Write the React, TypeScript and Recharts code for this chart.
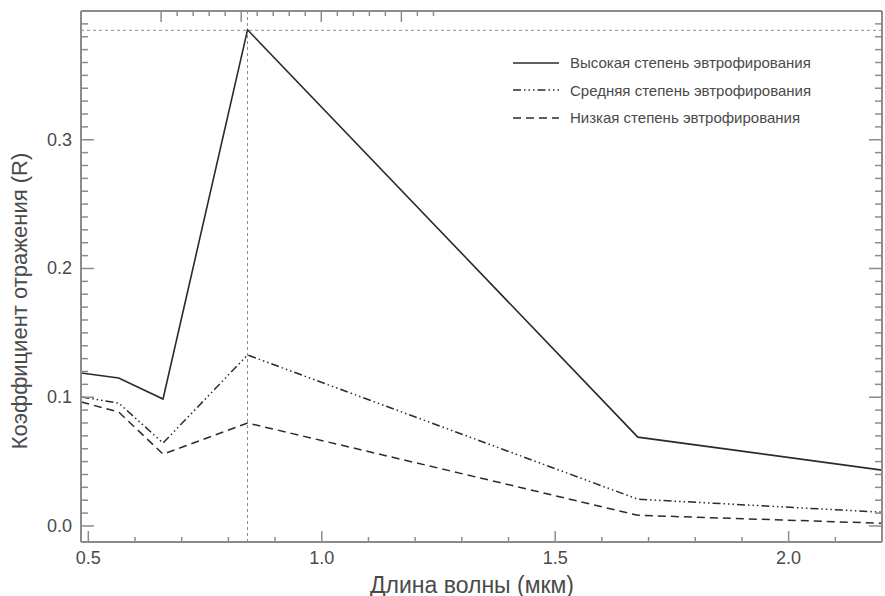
import React from 'react';
import { LineChart, Line, XAxis, YAxis, ReferenceLine, Legend } from 'recharts';

// wavelength of each band, мкм
const wavelength = [0.485, 0.565, 0.66, 0.841, 1.677, 2.2];
const highValues = [0.1188, 0.115, 0.0986, 0.3854, 0.069, 0.0434];
const mediumValues = [0.1002, 0.0955, 0.0644, 0.1328, 0.0208, 0.0107];
const lowValues = [0.0963, 0.0885, 0.0558, 0.08, 0.0083, 0.0021];

const seriesNames = [
  'Высокая степень эвтрофирования',
  'Средняя степень эвтрофирования',
  'Низкая степень эвтрофирования',
];

const xTicks = [0.5, 0.6, 0.7, 0.8, 0.9, 1.0, 1.1, 1.2, 1.3, 1.4, 1.5, 1.6, 1.7, 1.8, 1.9, 2.0, 2.1, 2.2];
const xMajor = [0.5, 1.0, 1.5, 2.0];
const yTicks = [
  0, 0.01, 0.02, 0.03, 0.04, 0.05, 0.06, 0.07, 0.08, 0.09,
  0.1, 0.11, 0.12, 0.13, 0.14, 0.15, 0.16, 0.17, 0.18, 0.19,
  0.2, 0.21, 0.22, 0.23, 0.24, 0.25, 0.26, 0.27, 0.28, 0.29,
  0.3, 0.31, 0.32, 0.33, 0.34, 0.35, 0.36, 0.37, 0.38, 0.39,
];
const yMajor = [0, 0.1, 0.2, 0.3];

const peakX = 0.841;
const peakY = 0.385;

const FONT = '"Liberation Sans", Arial, sans-serif';
const AXIS = '#8c8c8c';
const TEXT = '#4a4a4a';
const LINE = '#2b2b2b';

const dashes = ['', '8 3 1.5 3 1.5 3 1.5 3', '8 5'];

const chartData = wavelength.map((w, i) => ({
  w,
  high: highValues[i],
  medium: mediumValues[i],
  low: lowValues[i],
}));

const isMajor = (list: number[], v: number) => list.some((m) => Math.abs(m - v) < 1e-6);

const BottomTick = (props: any) => {
  const { x, y, payload } = props;
  const major = isMajor(xMajor, payload.value);
  return (
    <g>
      <line x1={x} x2={x} y1={y} y2={y - (major ? 11 : 5)} stroke={AXIS} strokeWidth={1.5} />
      {major && (
        <text x={x} y={y + 22} textAnchor="middle" fontSize={18} fill={TEXT} fontFamily={FONT}>
          {payload.value.toFixed(1)}
        </text>
      )}
    </g>
  );
};

const TopTick = (props: any) => {
  const { x, y, payload } = props;
  const major = isMajor(xMajor, payload.value);
  return <line x1={x} x2={x} y1={y} y2={y + (major ? 11 : 5)} stroke={AXIS} strokeWidth={1.5} />;
};

const LeftTick = (props: any) => {
  const { x, y, payload } = props;
  const major = isMajor(yMajor, payload.value);
  return (
    <g>
      <line x1={x} x2={x + (major ? 13 : 7)} y1={y} y2={y} stroke={AXIS} strokeWidth={1.5} />
      {major && (
        <text x={x - 9} y={y + 6} textAnchor="end" fontSize={18} fill={TEXT} fontFamily={FONT}>
          {payload.value.toFixed(1)}
        </text>
      )}
    </g>
  );
};

const RightTick = (props: any) => {
  const { x, y, payload } = props;
  const major = isMajor(yMajor, payload.value);
  return <line x1={x} x2={x - (major ? 13 : 7)} y1={y} y2={y} stroke={AXIS} strokeWidth={1.5} />;
};

const LegendBox = () => (
  <div style={{ fontFamily: FONT }}>
    {seriesNames.map((name, i) => (
      <div key={name} style={{ display: 'flex', alignItems: 'center', height: 27.5 }}>
        <svg width={46} height={10} style={{ marginRight: 11 }}>
          <line x1={0} x2={46} y1={5} y2={5} stroke={LINE} strokeWidth={1.5} strokeDasharray={dashes[i]} />
        </svg>
        <span style={{ fontSize: 15, color: TEXT, whiteSpace: 'nowrap' }}>{name}</span>
      </div>
    ))}
  </div>
);

export default function App() {
  return (
    <div style={{ position: 'absolute', left: 0, top: 0, width: 885, height: 596, background: '#fff', fontFamily: FONT }}>
      <LineChart width={885} height={596} data={chartData} margin={{ top: 10, right: 2, left: 80, bottom: 53 }}>
        <XAxis
          dataKey="w"
          type="number"
          domain={[0.4843, 2.2]}
          allowDataOverflow
          ticks={xTicks}
          interval={0}
          height={1}
          tickSize={0}
          tickMargin={0}
          tick={<BottomTick />}
          axisLine={{ stroke: AXIS, strokeWidth: 2 }}
        />
        <XAxis
          xAxisId="top"
          orientation="top"
          type="number"
          domain={[0.4843, 2.2]}
          allowDataOverflow
          ticks={xTicks}
          interval={0}
          height={1}
          tickSize={0}
          tickMargin={0}
          tick={<TopTick />}
          axisLine={{ stroke: AXIS, strokeWidth: 2 }}
        />
        <YAxis
          type="number"
          domain={[-0.01245, 0.4]}
          allowDataOverflow
          ticks={yTicks}
          interval={0}
          width={1}
          tickSize={0}
          tickMargin={0}
          tick={<LeftTick />}
          axisLine={{ stroke: AXIS, strokeWidth: 2 }}
        />
        <YAxis
          yAxisId="right"
          orientation="right"
          type="number"
          domain={[-0.01245, 0.4]}
          allowDataOverflow
          ticks={yTicks}
          interval={0}
          width={1}
          tickSize={0}
          tickMargin={0}
          tick={<RightTick />}
          axisLine={{ stroke: AXIS, strokeWidth: 2 }}
        />
        <ReferenceLine x={peakX} stroke="#8a8a8a" strokeDasharray="3 3" strokeWidth={1} />
        <ReferenceLine y={peakY} stroke="#8a8a8a" strokeDasharray="3 3" strokeWidth={1} />
        <Line
          dataKey="high"
          name={seriesNames[0]}
          stroke={LINE}
          strokeWidth={1.6}
          dot={false}
          activeDot={false}
          isAnimationActive={false}
        />
        <Line
          dataKey="medium"
          name={seriesNames[1]}
          stroke={LINE}
          strokeWidth={1.5}
          strokeDasharray={dashes[1]}
          dot={false}
          activeDot={false}
          isAnimationActive={false}
        />
        <Line
          dataKey="low"
          name={seriesNames[2]}
          stroke={LINE}
          strokeWidth={1.5}
          strokeDasharray={dashes[2]}
          dot={false}
          activeDot={false}
          isAnimationActive={false}
        />
        <Legend
          layout="vertical"
          align="center"
          verticalAlign="middle"
          content={<LegendBox />}
          wrapperStyle={{ left: 513, top: 49, width: 340 }}
        />
      </LineChart>
      <div
        style={{
          position: 'absolute',
          left: 472,
          top: 585,
          transform: 'translate(-50%, -50%)',
          fontSize: 23,
          color: TEXT,
          whiteSpace: 'nowrap',
        }}
      >
        Длина волны (мкм)
      </div>
      <div
        style={{
          position: 'absolute',
          left: 20,
          top: 301,
          transform: 'translate(-50%, -50%) rotate(-90deg)',
          fontSize: 22,
          color: TEXT,
          whiteSpace: 'nowrap',
        }}
      >
        Коэффициент отражения (R)
      </div>
    </div>
  );
}
